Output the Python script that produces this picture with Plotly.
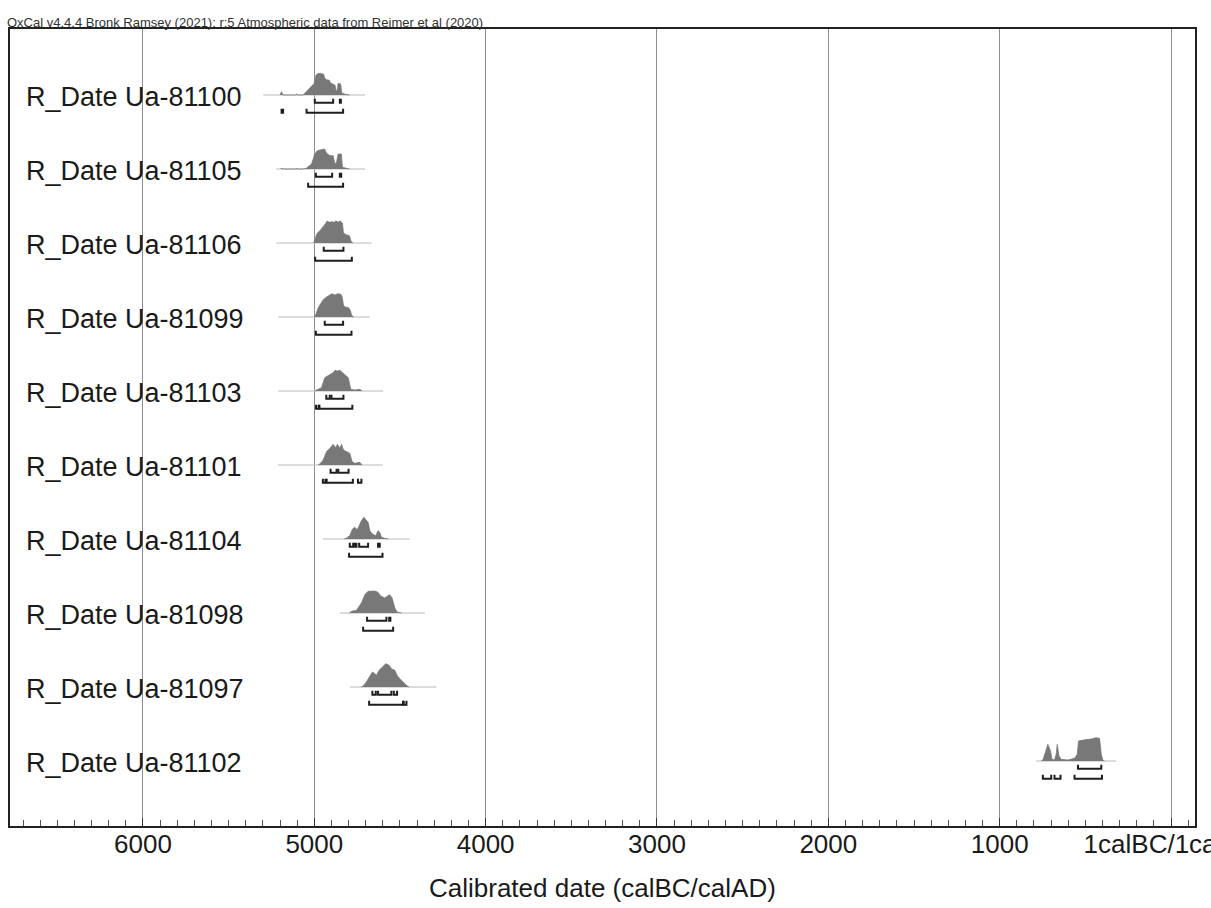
import plotly.graph_objects as go

# ---------------- data ----------------
labels = ["R_Date Ua-81100", "R_Date Ua-81105", "R_Date Ua-81106", "R_Date Ua-81099",
          "R_Date Ua-81103", "R_Date Ua-81101", "R_Date Ua-81104", "R_Date Ua-81098",
          "R_Date Ua-81097", "R_Date Ua-81102"]

# extent of the thin baseline of each date (calBC)
line_from = [5298, 5221, 5221, 5211, 5211, 5213, 4948, 4851, 4793, 787]
line_to = [4705, 4705, 4666, 4676, 4598, 4600, 4443, 4355, 4287, 320]

# relative probability curves (calBC years, relative height)
y_81100 = [5200, 5191, 5183, 5110, 5104, 5098, 5065, 5055, 5036, 5016, 5000, 4990, 4975, 4958, 4945,
           4939, 4929, 4912, 4905, 4890, 4880, 4872, 4866, 4861, 4846, 4840, 4820, 4795]
p_81100 = [0, 10, 0, 0, 3, 0, 0, 5, 15, 25, 35, 60, 65, 64, 62, 50, 46, 44, 36, 32, 30, 12, 14, 35, 33, 6, 2, 0]

y_81105 = [5195, 5191, 5187, 5108, 5104, 5100, 5060, 5045, 5016, 4997, 4982, 4958, 4940, 4929, 4909,
           4890, 4880, 4870, 4861, 4842, 4836, 4812, 4795]
p_81105 = [0, 3, 0, 0, 3, 0, 0, 3, 15, 45, 55, 58, 60, 48, 40, 40, 15, 20, 45, 45, 5, 2, 0]

y_81106 = [5003, 4997, 4985, 4965, 4945, 4935, 4925, 4912, 4900, 4885, 4875, 4860, 4848, 4836, 4830,
           4815, 4795, 4786, 4775]
p_81106 = [0, 8, 28, 38, 50, 58, 66, 62, 64, 62, 66, 63, 66, 60, 30, 25, 22, 5, 0]

y_81099 = [5000, 4993, 4977, 4958, 4948, 4929, 4915, 4896, 4880, 4861, 4845, 4837, 4830, 4820, 4800,
           4790, 4782, 4770]
p_81099 = [0, 5, 28, 45, 52, 60, 65, 70, 66, 70, 68, 60, 35, 30, 28, 20, 5, 0]

y_81103 = [4995, 4987, 4958, 4939, 4923, 4909, 4890, 4880, 4865, 4851, 4837, 4822, 4802, 4787, 4764,
           4734, 4721]
p_81103 = [0, 3, 10, 40, 45, 50, 55, 62, 60, 62, 55, 50, 40, 5, 3, 5, 0]

y_81101 = [4978, 4968, 4948, 4929, 4909, 4890, 4876, 4865, 4851, 4841, 4830, 4812, 4793, 4779, 4764,
           4734, 4721]
p_81101 = [0, 3, 15, 40, 50, 62, 52, 62, 50, 62, 45, 40, 35, 10, 5, 8, 0]

y_81104 = [4825, 4812, 4793, 4777, 4764, 4750, 4738, 4725, 4711, 4696, 4686, 4676, 4661, 4641, 4628,
           4618, 4608, 4589, 4569]
p_81104 = [0, 3, 10, 30, 35, 28, 40, 55, 65, 55, 50, 25, 15, 10, 25, 20, 5, 2, 0]

y_81098 = [4795, 4783, 4754, 4725, 4705, 4686, 4647, 4628, 4614, 4589, 4575, 4560, 4546, 4530, 4517, 4491]
p_81098 = [0, 5, 8, 30, 55, 65, 66, 62, 52, 45, 50, 55, 45, 15, 3, 0]

y_81097 = [4725, 4715, 4696, 4676, 4661, 4647, 4637, 4622, 4602, 4583, 4563, 4550, 4530, 4517, 4501,
           4482, 4462, 4447]
p_81097 = [0, 3, 15, 30, 45, 40, 35, 50, 60, 70, 65, 55, 50, 35, 25, 15, 5, 0]

y_81102 = [757, 748, 734, 719, 703, 695, 680, 670, 664, 654, 641, 602, 563, 547, 540, 524, 466, 437,
           417, 407, 398, 388]
p_81102 = [0, 3, 25, 50, 30, 5, 3, 20, 50, 15, 5, 3, 8, 20, 60, 62, 66, 70, 68, 20, 3, 0]

# 68.2% and 95.4% highest probability ranges (calBC from, to)
r68_81100 = [(4997, 4890), (4851, 4845)]
r95_81100 = [(5191, 5182), (5045, 4832)]
r68_81105 = [(4991, 4896), (4851, 4843)]
r95_81105 = [(5036, 4832)]
r68_81106 = [(4945, 4830)]
r95_81106 = [(4995, 4781)]
r68_81099 = [(4939, 4832)]
r95_81099 = [(4991, 4783)]
r68_81103 = [(4930, 4910), (4900, 4830)]
r95_81103 = [(4990, 4975), (4970, 4778)]
r68_81101 = [(4905, 4870), (4860, 4800)]
r95_81101 = [(4950, 4935), (4928, 4775), (4745, 4725)]
r68_81104 = [(4793, 4773), (4764, 4754), (4738, 4686), (4628, 4618)]
r95_81104 = [(4797, 4602)]
r68_81098 = [(4692, 4579), (4563, 4556)]
r95_81098 = [(4715, 4540)]
r68_81097 = [(4661, 4641), (4628, 4550), (4536, 4517)]
r95_81097 = [(4680, 4482), (4478, 4462)]
r68_81102 = [(543, 407)]
r95_81102 = [(748, 699), (680, 645), (563, 403)]

tick_years = [6000, 5000, 4000, 3000, 2000, 1000, 0]
tick_text = ["6000", "5000", "4000", "3000", "2000", "1000", "1calBC/1calAD"]

header = "OxCal v4.4.4 Bronk Ramsey (2021); r:5 Atmospheric data from Reimer et al (2020)"
x_title = "Calibrated date (calBC/calAD)"

curves = [(y_81100, p_81100, r68_81100, r95_81100),
          (y_81105, p_81105, r68_81105, r95_81105),
          (y_81106, p_81106, r68_81106, r95_81106),
          (y_81099, p_81099, r68_81099, r95_81099),
          (y_81103, p_81103, r68_81103, r95_81103),
          (y_81101, p_81101, r68_81101, r95_81101),
          (y_81104, p_81104, r68_81104, r95_81104),
          (y_81098, p_81098, r68_81098, r95_81098),
          (y_81097, p_81097, r68_81097, r95_81097),
          (y_81102, p_81102, r68_81102, r95_81102)]

# ---------------- style ----------------
FONT = "Liberation Sans, Arial, sans-serif"
PROB_SCALE = 1 / 222.0     # relative height -> row units
OFF68 = 0.105
OFF95 = 0.24
TICK_H = 0.055

fig = go.Figure()

for k, (yrs, prob, r68, r95) in enumerate(curves):
    fig.add_trace(go.Scatter(x=[-line_from[k], -line_to[k]], y=[k, k], mode="lines",
                             line=dict(color="#b9b9b9", width=1), hoverinfo="skip", showlegend=False))
    fig.add_trace(go.Scatter(x=[-v for v in yrs], y=[k - p * PROB_SCALE for p in prob],
                             mode="lines", fill="toself", fillcolor="#787878",
                             line=dict(color="#787878", width=0.8), hoverinfo="skip", showlegend=False))
    for rngs, off in ((r68, OFF68), (r95, OFF95)):
        xs, ys = [], []
        for a, b in rngs:
            yy = k + off
            xs += [-a, -a, -b, -b, None]
            ys += [yy - TICK_H, yy, yy, yy - TICK_H, None]
        fig.add_trace(go.Scatter(x=xs, y=ys, mode="lines",
                                 line=dict(color="#1e1e1e", width=2), hoverinfo="skip", showlegend=False))

annotations = []
for k, lab in enumerate(labels):
    annotations.append(dict(x=0.0118, xref="paper", y=k, yref="y", text=lab, showarrow=False,
                            xanchor="left", yanchor="middle", yshift=-2,
                            font=dict(family=FONT, size=27, color="#1a1a1a")))
annotations.append(dict(x=-0.004, xref="paper", y=1, yref="paper", text=header, showarrow=False,
                        xanchor="left", yanchor="bottom", yshift=-3,
                        font=dict(family=FONT, size=13, color="#333333")))
annotations.append(dict(x=0.5, xref="paper", y=-0.078, yref="paper", text=x_title, showarrow=False,
                        xanchor="center", yanchor="middle",
                        font=dict(family=FONT, size=26, color="#1a1a1a")))

fig.update_layout(
    width=1211, height=908,
    margin=dict(l=10, r=15.5, t=29, b=82, autoexpand=False),
    paper_bgcolor="white", plot_bgcolor="white",
    showlegend=False,
    annotations=annotations,
    xaxis=dict(range=[-6776, 140], tickvals=[-t for t in tick_years], ticktext=tick_text,
               automargin=False,
               ticks="inside", ticklen=8, tickcolor="#333333", tickwidth=1,
               ticklabeloverflow="allow", ticklabelstandoff=-6,
               showgrid=True, gridcolor="#8f8f8f", gridwidth=1, zeroline=False,
               showline=True, linecolor="#222222", linewidth=2, mirror=True,
               tickfont=dict(family=FONT, size=26, color="#1a1a1a"),
               minor=dict(dtick=100, ticks="inside", ticklen=6, tickcolor="#555555", showgrid=False)),
    yaxis=dict(range=[9.878, -0.892], showticklabels=False, ticks="", showgrid=False, zeroline=False,
               automargin=False,
               showline=True, linecolor="#222222", linewidth=2, mirror=True),
)

fig.write_html("out.html", config={"displayModeBar": False},
               post_script="document.body.style.margin='0';document.body.style.overflow='hidden';")
